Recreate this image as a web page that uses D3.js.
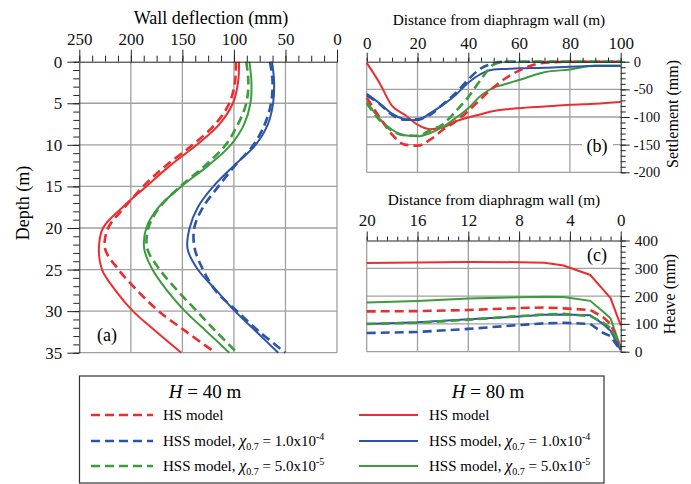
<!DOCTYPE html>
<html>
<head>
<meta charset="utf-8">
<script src="https://cdn.jsdelivr.net/npm/d3@7"></script>
<style>
  body { margin: 0; background: #fff; }
</style>
</head>
<body>
<svg width="691" height="484"></svg>
<script>
// (a) wall deflection vs depth
const depth = [0, 2.5, 5, 7.5, 10, 12.5, 15, 17.5, 20, 22.5, 25, 27.5, 30, 32.5, 35];
const defl80HS  = [95, 96, 101, 114, 136, 162, 185, 208, 227, 231, 228, 215, 198, 175, 151];
const defl40HS  = [98, 99, 104.5, 118, 140, 166, 188, 206, 222, 225, 212, 194, 173, 146, 118];
const defl80B   = [63, 61, 62, 67, 79, 100, 120, 135, 143, 145, 135, 117, 99, 78, 57];
const defl40B   = [65, 62.5, 64, 70, 81, 99, 115, 130, 138.5, 138, 130, 118, 97, 75, 50];
const defl80G   = [85, 83, 84, 90, 103, 125, 151, 173, 185, 187, 179, 165, 147.5, 126, 104.5];
const defl40G   = [88, 86, 88, 96, 108, 128, 152, 172, 183, 184, 172, 155, 136, 117, 97];

// (b) settlement vs distance
const distB = [0, 5, 10, 15, 20, 25, 30, 35, 40, 45, 50, 55, 60, 70, 80, 90, 100];
const sett80HS = [-2, -38, -80, -96, -114, -122, -119, -108, -101, -95, -89, -86, -84, -81, -78, -76, -73];
const sett40HS = [-65, -100, -132, -150, -152, -141, -123, -108, -89, -67, -46, -29, -16, -2, 0, 0, 0];
const sett80B  = [-58, -75, -94, -104, -106, -93, -78, -60, -38, -22, -14, -13, -12, -11, -9, -8, -8];
const sett40B  = [-61, -76, -96, -105, -104, -96, -77, -57, -32, -12, -3, 0, 0, 0, 0, 0, 0];
const sett80G  = [-72, -103, -123, -133, -135, -129, -118, -102, -84, -61, -47, -40, -33, -19, -14, -7, -7];
const sett40G  = [-75, -105, -125, -133, -134, -124, -113, -90, -64, -32, -5, 0, 0, 0, 0, 0, 0];

// (c) heave vs distance
const distC = [20, 16, 12, 8, 6, 4.5, 2.4, 1.4, 0.8, 0];
const heave80HS = [319, 321, 323, 322, 320, 310, 276, 224, 193, 95];
const heave40HS = [145, 146, 150, 157, 159, 156, 150, 125, 100, 10];
const heave80B  = [100, 106, 117, 127, 133, 134, 131, 100, 75, 5];
const heave40B  = [67, 71, 82, 96, 102, 104, 100, 68, 56, 3];
const heave80G  = [177, 182, 191, 196, 198, 197, 183, 145, 120, 15];
const heave40G  = [100, 104, 115, 128, 134, 136, 128, 105, 85, 20];

const RED = "#ec2d2f", BLUE = "#2c55a8", GREEN = "#3e9a3e", GRID = "#a0a0a0";
const DASH = "9,5";
const FONT = "'Liberation Serif', Tinos, 'DejaVu Serif', 'Noto Serif', serif";

const svg = d3.select("svg");

function addLine(g, xs, vals, color, dashed, xScale, yScale, curve, byY) {
  const pts = byY ? xs.map((d, i) => [vals[i], d]) : xs.map((d, i) => [d, vals[i]]);
  g.append("path")
    .datum(pts)
    .attr("fill", "none")
    .attr("stroke", color)
    .attr("stroke-width", dashed ? 2.6 : 2)
    .attr("stroke-dasharray", dashed ? DASH : null)
    .attr("d", d3.line().x(d => xScale(d[0])).y(d => yScale(d[1])).curve(curve));
}

function gridLines(g, x, y, xv, yv) {
  const [x0, x1] = x.range(), [y0, y1] = y.range();
  g.selectAll(null).data(xv).enter().append("line")
    .attr("x1", d => x(d)).attr("x2", d => x(d))
    .attr("y1", y0).attr("y2", y1)
    .attr("stroke", GRID).attr("stroke-width", 1.3);
  g.selectAll(null).data(yv).enter().append("line")
    .attr("y1", d => y(d)).attr("y2", d => y(d))
    .attr("x1", x0).attr("x2", x1)
    .attr("stroke", GRID).attr("stroke-width", 1.3);
}

function minor(axisFn, scale, vals, size) {
  return axisFn(scale).tickValues(vals).tickSize(size).tickFormat("");
}
function styleAxis(g, fs) {
  g.attr("font-family", FONT);
  g.selectAll("text").attr("font-size", fs).attr("fill", "#111");
  g.selectAll("line,path").attr("stroke", "#222");
}

// ---------- panel (a)
const xA = d3.scaleLinear().domain([250, 0]).range([79.3, 337]);
const yA = d3.scaleLinear().domain([0, 35]).range([61.7, 352.7]);
const gA = svg.append("g");
gridLines(gA, xA, yA, [200, 150, 100, 50, 0], [5, 10, 15, 20, 25, 30, 35]);

const curveA = d3.curveCatmullRom;
addLine(gA, depth, defl40HS, RED, true, xA, yA, curveA, true);
addLine(gA, depth, defl80HS, RED, false, xA, yA, curveA, true);
addLine(gA, depth, defl40G, GREEN, true, xA, yA, curveA, true);
addLine(gA, depth, defl80G, GREEN, false, xA, yA, curveA, true);
addLine(gA, depth, defl40B, BLUE, true, xA, yA, curveA, true);
addLine(gA, depth, defl80B, BLUE, false, xA, yA, curveA, true);

gA.append("g").attr("transform", "translate(0,61.7)")
  .call(minor(d3.axisTop, xA, d3.range(0, 251, 12.5), 6))
  .call(g => g.select(".domain").remove()).call(g => styleAxis(g, 17));
gA.append("g").attr("transform", "translate(0,61.7)")
  .call(d3.axisTop(xA).tickValues([250, 200, 150, 100, 50, 0]).tickSize(12).tickSizeOuter(0).tickPadding(5))
  .call(g => styleAxis(g, 17));
gA.append("g").attr("transform", "translate(79.3,0)")
  .call(minor(d3.axisLeft, yA, d3.range(0, 36, 1), 6))
  .call(g => g.select(".domain").remove()).call(g => styleAxis(g, 17));
gA.append("g").attr("transform", "translate(79.3,0)")
  .call(d3.axisLeft(yA).tickValues([0, 5, 10, 15, 20, 25, 30, 35]).tickSize(12).tickSizeOuter(0).tickPadding(5))
  .call(g => styleAxis(g, 17));

svg.append("text").attr("x", 211).attr("y", 24).attr("text-anchor", "middle")
  .attr("font-size", 18).text("Wall deflection (mm)");
svg.append("text").attr("transform", "translate(29,203) rotate(-90)").attr("text-anchor", "middle")
  .attr("font-size", 18).text("Depth (m)");
svg.append("text").attr("x", 107).attr("y", 341).attr("text-anchor", "middle")
  .attr("font-size", 18).text("(a)");

// ---------- panel (b)
const xB = d3.scaleLinear().domain([0, 100]).range([366.7, 620.7]);
const yB = d3.scaleLinear().domain([0, -200]).range([61.7, 172.3]);
const gB = svg.append("g");
gridLines(gB, xB, yB, [0, 20, 40, 60, 80], [-50, -100, -150, -200]);
gB.append("rect").attr("x", 582).attr("y", 134).attr("width", 31).attr("height", 24).attr("fill", "#fff");

const curveB = d3.curveMonotoneX;
addLine(gB, distB, sett80HS, RED, false, xB, yB, curveB);
addLine(gB, distB, sett80G, GREEN, false, xB, yB, curveB);
addLine(gB, distB, sett80B, BLUE, false, xB, yB, curveB);
addLine(gB, distB, sett40B, BLUE, true, xB, yB, curveB);
addLine(gB, distB, sett40HS, RED, true, xB, yB, curveB);
addLine(gB, distB, sett40G, GREEN, true, xB, yB, curveB);

gB.append("g").attr("transform", "translate(0,61.7)")
  .call(minor(d3.axisTop, xB, d3.range(0, 101, 5), 4))
  .call(g => g.select(".domain").remove()).call(g => styleAxis(g, 17));
gB.append("g").attr("transform", "translate(0,61.7)")
  .call(d3.axisTop(xB).tickValues([0, 20, 40, 60, 80, 100]).tickSize(9).tickSizeOuter(0).tickPadding(4))
  .call(g => styleAxis(g, 17));
gB.append("g").attr("transform", "translate(620.7,0)")
  .call(minor(d3.axisRight, yB, d3.range(0, -201, -10), 5))
  .call(g => g.select(".domain").remove()).call(g => styleAxis(g, 14.5));
gB.append("g").attr("transform", "translate(620.7,0)")
  .call(d3.axisRight(yB).tickValues([0, -50, -100, -150, -200]).tickSize(9).tickSizeOuter(0).tickPadding(4)
    .tickFormat(d => String(d)))
  .call(g => styleAxis(g, 14.5));

svg.append("text").attr("x", 499).attr("y", 25).attr("text-anchor", "middle")
  .attr("font-size", 15.3).text("Distance from diaphragm wall (m)");
svg.append("text").attr("transform", "translate(678,114) rotate(-90)").attr("text-anchor", "middle")
  .attr("font-size", 16).text("Settlement (mm)");
svg.append("text").attr("x", 597).attr("y", 152).attr("text-anchor", "middle")
  .attr("font-size", 18).text("(b)");

// ---------- panel (c)
const xC = d3.scaleLinear().domain([20, 0]).range([366.7, 620.7]);
const yC = d3.scaleLinear().domain([0, 400]).range([351.7, 240.5]);
const gC = svg.append("g");
gridLines(gC, xC, yC, [20, 16, 12, 8, 4], [0, 100, 200, 300]);

const curveC = d3.curveLinear;
addLine(gC, distC, heave80HS, RED, false, xC, yC, curveC);
addLine(gC, distC, heave80G, GREEN, false, xC, yC, curveC);
addLine(gC, distC, heave40HS, RED, true, xC, yC, curveC);
addLine(gC, distC, heave80B, BLUE, false, xC, yC, curveC);
addLine(gC, distC, heave40G, GREEN, true, xC, yC, curveC);
addLine(gC, distC, heave40B, BLUE, true, xC, yC, curveC);

gC.append("g").attr("transform", "translate(0,240.5)")
  .call(minor(d3.axisTop, xC, d3.range(0, 20.01, 0.8), 4))
  .call(g => g.select(".domain").remove()).call(g => styleAxis(g, 17));
gC.append("g").attr("transform", "translate(0,240.5)")
  .call(d3.axisTop(xC).tickValues([20, 16, 12, 8, 4, 0]).tickSize(9).tickSizeOuter(0).tickPadding(6))
  .call(g => styleAxis(g, 17));
gC.append("g").attr("transform", "translate(620.7,0)")
  .call(minor(d3.axisRight, yC, d3.range(0, 401, 20), 5))
  .call(g => g.select(".domain").remove()).call(g => styleAxis(g, 15.5));
gC.append("g").attr("transform", "translate(620.7,0)")
  .call(d3.axisRight(yC).tickValues([0, 100, 200, 300, 400]).tickSize(9).tickSizeOuter(0).tickPadding(5))
  .call(g => styleAxis(g, 15.5));

svg.append("text").attr("x", 494).attr("y", 205).attr("text-anchor", "middle")
  .attr("font-size", 15.3).text("Distance from diaphragm wall (m)");
svg.append("text").attr("transform", "translate(675,294) rotate(-90)").attr("text-anchor", "middle")
  .attr("font-size", 16).text("Heave (mm)");
svg.append("text").attr("x", 597).attr("y", 261).attr("text-anchor", "middle")
  .attr("font-size", 18).text("(c)");

// ---------- legend
const legendNames = ["HS model", "HSS model, ", "HSS model, "];
const gammaVals = [null, "1.0x10", "5.0x10"];
const gammaExp = [null, "-4", "-5"];
const legendColors = [RED, BLUE, GREEN];
const rowY = [415, 441, 466];

const lg = svg.append("g");
lg.append("rect").attr("x", 79.5).attr("y", 376).attr("width", 524.5).attr("height", 107)
  .attr("fill", "#fff").attr("stroke", "#333").attr("stroke-width", 1.2);

[["40", 205], ["80", 488]].forEach(([h, cx]) => {
  const t = lg.append("text").attr("x", cx).attr("y", 398).attr("text-anchor", "middle").attr("font-size", 19);
  t.append("tspan").attr("font-style", "italic").text("H");
  t.append("tspan").text(" = " + h + " m");
});

function legendText(x, y, i) {
  const t = lg.append("text").attr("x", x).attr("y", y + 5).attr("font-size", 15);
  t.append("tspan").text(legendNames[i]);
  if (gammaVals[i]) {
    t.append("tspan").attr("font-style", "italic").attr("font-size", 16).text("\u03C7");
    t.append("tspan").attr("font-size", 10).attr("dy", 4).text("0.7");
    t.append("tspan").attr("dy", -4).text(" = " + gammaVals[i]);
    t.append("tspan").attr("font-size", 10).attr("dy", -6).text(gammaExp[i]);
  }
}

rowY.forEach((y, i) => {
  lg.append("line").attr("x1", 91).attr("x2", 153).attr("y1", y).attr("y2", y)
    .attr("stroke", legendColors[i]).attr("stroke-width", 2.6).attr("stroke-dasharray", DASH);
  legendText(163, y, i);
  lg.append("line").attr("x1", 359).attr("x2", 418).attr("y1", y).attr("y2", y)
    .attr("stroke", legendColors[i]).attr("stroke-width", 2);
  legendText(429, y, i);
});

svg.selectAll("text").attr("font-family", FONT);
</script>
</body>
</html>
